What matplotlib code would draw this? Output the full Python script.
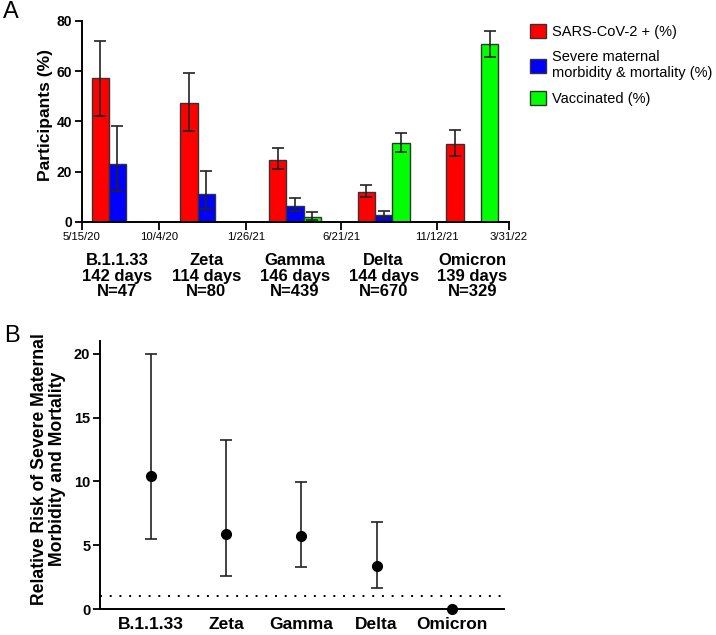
import numpy as np
import matplotlib.pyplot as plt
from matplotlib.patches import Patch
from matplotlib.transforms import blended_transform_factory

plt.rcParams['font.family'] = ['Liberation Sans', 'DejaVu Sans']

# ---- data, panel A ----
variants = ["B.1.1.33", "Zeta", "Gamma", "Delta", "Omicron"]
group_text = ["B.1.1.33\n142 days\nN=47", "Zeta\n114 days\nN=80", "Gamma\n146 days\nN=439",
              "Delta\n144 days\nN=670", "Omicron\n139 days\nN=329"]
date_ticks = ["5/15/20", "10/4/20", "1/26/21", "6/21/21", "11/12/21", "3/31/22"]

sars_pos = [57.2, 47.3, 24.8, 11.9, 31.1]
sars_lo = [42.1, 36.3, 21.0, 10.0, 26.3]
sars_hi = [71.8, 59.2, 29.5, 14.8, 36.7]

severe = [23.2, 11.0, 6.5, 2.8, 0]
severe_lo = [12.4, 5.1, 4.5, 1.5, np.nan]
severe_hi = [38.0, 20.2, 9.6, 4.5, np.nan]

vacc = [0, 0, 2.0, 31.4, 70.6]
vacc_lo = [np.nan, np.nan, 0.6, 28.0, 65.6]
vacc_hi = [np.nan, np.nan, 4.0, 35.3, 75.8]

# ---- data, panel B ----
rr = [10.45, 5.9, 5.75, 3.35, 0]
rr_lo = [5.47, 2.62, 3.3, 1.62, np.nan]
rr_hi = [20.0, 13.25, 9.98, 6.85, np.nan]

fig = plt.figure(figsize=(7.16, 6.35), dpi=100)
axA = fig.add_axes([0.1145, 0.6504, 0.596, 0.317])
axB = fig.add_axes([0.1397, 0.0409, 0.5642, 0.4221])

x = np.arange(len(variants))
w = 0.195
series = [(sars_pos, sars_lo, sars_hi, '#ff0000', "SARS-CoV-2 + (%)"),
          (severe, severe_lo, severe_hi, '#0000ff', "Severe maternal\nmorbidity & mortality (%)"),
          (vacc, vacc_lo, vacc_hi, '#00ff00', "Vaccinated (%)")]
handles = []
for i, (vals, lo, hi, col, lab) in enumerate(series):
    vals = np.array(vals, float)
    lo = np.array(lo, float)
    hi = np.array(hi, float)
    xs = x + (i - 1) * w
    axA.bar(xs, vals, width=w, color=col, edgecolor='#333333', linewidth=1.0, zorder=2)
    m = ~np.isnan(lo)
    axA.errorbar(xs[m], vals[m], yerr=[vals[m] - lo[m], hi[m] - vals[m]], fmt='none',
                 ecolor='#222222', elinewidth=1.2, capsize=4, capthick=1.2, zorder=3)
    handles.append(Patch(facecolor=col, edgecolor='#333333', linewidth=1.0, label=lab))

axA.set_xlim(-0.4, 4.41)
axA.set_ylim(0, 80)
axA.set_yticks([0, 20, 40, 60, 80])
axA.set_xticks([-0.4, 0.47, 1.45, 2.52, 3.6, 4.41])
axA.set_xticklabels(date_ticks, fontsize=8.2)
for lbl in axA.get_yticklabels():
    lbl.set_fontweight('bold')
    lbl.set_fontsize(10)
axA.tick_params(axis='x', length=6, width=1.3, pad=1.5)
axA.tick_params(axis='y', length=5, width=1.3, pad=2)
axA.set_ylabel("Participants (%)", fontsize=12.5, fontweight='bold')
axA.yaxis.set_label_coords(-0.068, 0.534)
for s in ['top', 'right']:
    axA.spines[s].set_visible(False)
for s in ['left', 'bottom']:
    axA.spines[s].set_linewidth(1.4)

trans = blended_transform_factory(axA.transData, axA.transAxes)
for xi, t in zip(x, group_text):
    axA.text(xi, -0.155, t, transform=trans, ha='center', va='top',
             fontsize=12, fontweight='bold', linespacing=1.05)

fig.legend(handles=handles, loc='upper left', bbox_to_anchor=(0.740, 0.962), frameon=False,
           fontsize=10.5, handlelength=1.1, handleheight=1.1, handletextpad=0.45,
           labelspacing=0.75, borderaxespad=0, borderpad=0)

# ---- panel B ----
rr = np.array(rr, float)
rr_lo = np.array(rr_lo, float)
rr_hi = np.array(rr_hi, float)
m = ~np.isnan(rr_lo)
axB.errorbar(x[m], rr[m], yerr=[rr[m] - rr_lo[m], rr_hi[m] - rr[m]], fmt='none',
             ecolor='#222222', elinewidth=1.2, capsize=4, capthick=1.2, zorder=2)
axB.plot(x, rr, 'o', color='black', markersize=7, zorder=4, clip_on=False)
axB.axhline(1, color='black', linestyle=(0, (1, 4)), linewidth=1.4, zorder=1)
axB.set_xlim(-0.67, 4.69)
axB.set_ylim(0, 21)
axB.set_yticks([0, 5, 10, 15, 20])
axB.set_xticks(x)
axB.set_xticklabels(variants, fontsize=12.5, fontweight='bold')
for lbl in axB.get_yticklabels():
    lbl.set_fontweight('bold')
    lbl.set_fontsize(10.5)
axB.tick_params(axis='x', length=0, pad=6)
axB.tick_params(axis='y', length=5, width=1.3, pad=2)
axB.set_ylabel("Relative Risk of Severe Maternal\nMorbidity and Mortality", fontsize=12.7,
               fontweight='bold', linespacing=1.05)
axB.yaxis.set_label_coords(-0.084, 0.522)
for s in ['top', 'right']:
    axB.spines[s].set_visible(False)
for s in ['left', 'bottom']:
    axB.spines[s].set_linewidth(1.4)

fig.text(11 / 716, 1 - 12 / 635, "A", fontsize=17, ha='center', va='center')
fig.text(12 / 716, 1 - 336 / 635, "B", fontsize=17, ha='center', va='center')

fig.savefig("out.png", dpi=100)
